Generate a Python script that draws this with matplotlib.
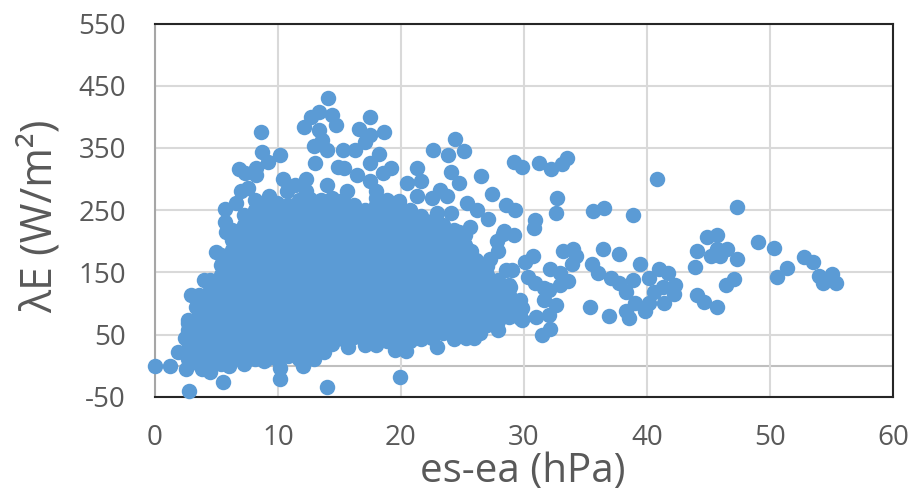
# scatter of latent heat flux against vapour pressure deficit

import matplotlib
matplotlib.use('Agg')
import matplotlib.pyplot as plt
import numpy as np

plt.rcParams['font.family'] = ['Open Sans', 'DejaVu Sans']
plt.rcParams['axes.unicode_minus'] = False

# separate points, read one by one
edge_x = [0, 2.76, 5.5, 10.2, 10.2, 14, 19.9, 1.2, 2.5, 4.5, 3.8, 6, 8.9, 12, 12.9, 13.7, 15.7, 17.1, 18, 19.5, 20.4, 22.9, 24.3, 25.3, 25.9, 26.4, 27.9, 29.8,
          1.9, 2.4, 2.7, 2.9, 3.3, 4, 5, 5.8, 5.7, 5.7, 6.6, 7, 7.6, 8.1, 9.3, 10.4, 11.4, 12.3, 12.3, 10.7, 14, 14.9, 15.4, 15.6, 16.4, 17.5, 19.2, 18.5, 20.5, 21.3, 21.5, 24.7,
          14.04, 8.6, 13.3, 12.7, 12.1, 14.4, 14.7, 13.3, 13.55, 12.9, 14, 13, 17.5, 16.6, 17.5, 18.6, 17.1, 15.3, 16.3, 18.2, 17.5,
          8.7, 10.2, 9.2, 8.2, 6.8, 8.2, 7.3, 22.6, 23.8, 24.4, 25.1, 24.1, 24.7, 21.3, 21.6, 26.5, 27.4, 28.5, 29.3, 29.2, 29.8,
          27.1, 28.4, 29.2, 27.8, 27.9, 27.2, 25.7, 25.6, 25.4, 26.2, 24.1, 23.2, 23.7, 22.5, 22.9, 18]
edge_y = [0, -41, -27, -22, -4, -35, -18, 0, -5, -10, -5, 0, 8, 0, 11, 22, 30, 33, 33, 25, 24, 30, 43, 45, 45, 52, 57, 73,
          22, 45, 68, 113, 95, 137, 183, 215, 231, 252, 261, 280, 285, 266, 273, 300, 290, 300, 280, 280, 290, 320, 317, 280, 306, 296, 317, 309, 293, 272, 237, 215,
          431, 375, 408, 399, 383, 403, 387, 379, 363, 353, 347, 325, 399, 380, 371, 376, 360, 347, 347, 340, 325,
          344, 339, 327, 317, 316, 306, 309, 347, 339, 365, 345, 312, 294, 318, 297, 305, 276, 259, 250, 328, 319,
          235, 217, 210, 201, 184, 172, 185, 223, 261, 250, 246, 282, 272, 269, 245, 280]

right_x = [31.2, 32.2, 33.1, 33.5, 40.8, 32.7, 32.6, 35.6, 36.5, 38.9, 47.3, 30.9, 30.8, 28.3, 30.7, 30.1, 33.2, 33.95, 34.2, 33.9,
           32.1, 32.9, 33.6, 32.9, 30.3, 30.9, 31.6, 32, 31.6, 32.6, 32, 32.1, 31.5, 31, 29.7, 29.7, 35.4, 36.9, 35.5, 36.4,
           37.7, 36, 37.1, 37.7, 38.3, 38.9, 39.4, 40.2, 41, 41.7, 42.3, 42.2, 40.6, 41.4, 41.3, 40.2, 39.8, 39, 38.3, 38.5,
           43.9, 44.1, 44.9, 45.7, 45.7, 45.2, 45.9, 46.5, 47.3, 47.1, 46.4, 44.1, 44.6, 45.7,
           49.05, 50.3, 50.6, 51.4, 52.8, 53.5, 54, 54.3, 55, 55.4,
           28.5, 29, 28.9, 29, 29.8]
right_y = [325, 316, 324, 334, 300, 269, 246, 248, 253, 242, 255, 234, 221, 212, 177, 166, 184, 187, 177, 163,
           156, 149, 136, 129, 143, 132, 124, 121, 106, 98, 81, 59, 49, 78, 76, 89, 95, 79, 163, 188,
           179, 149, 141, 132, 118, 138, 163, 141, 156, 149, 130, 115, 118, 100, 127, 101, 87, 101, 87, 77,
           158, 185, 207, 210, 188, 176, 176, 187, 171, 140, 130, 113, 102, 94,
           198, 189, 143, 157, 175, 166, 144, 132, 147, 133,
           153, 153, 127, 105, 92]

# solid part of the cloud, estimated column by column
core_x = [2.7, 3.6, 4.5, 5.4, 6.3, 7.2, 8.1, 9.0, 9.9, 10.8, 11.7, 12.6, 13.5, 14.4, 15.3, 16.2,
          17.1, 18.0, 18.9, 19.8, 20.7, 21.6, 22.5, 23.4, 24.3, 25.2, 26.1, 27.0, 27.9, 28.8, 29.7]
core_y = [
    [10, 26, 42, 58, 74],
    [2, 18, 34, 50, 66, 82, 98, 114],
    [-5, 10, 26, 42, 58, 74, 90, 106, 122, 138],
    [2, 18, 34, 50, 66, 82, 98, 114, 130, 146, 162, 178],
    [10, 26, 42, 58, 74, 90, 106, 122, 138, 154, 170, 186, 202, 218],
    [2, 18, 34, 50, 66, 82, 98, 114, 130, 146, 162, 178, 194, 210, 226, 242],
    [10, 26, 42, 58, 74, 90, 106, 122, 138, 154, 170, 186, 202, 218, 234, 250],
    [10, 18, 34, 50, 66, 82, 98, 114, 130, 146, 162, 178, 194, 210, 226, 242, 258],
    [10, 26, 42, 58, 74, 90, 106, 122, 138, 154, 170, 186, 202, 218, 234, 250, 262],
    [15, 34, 50, 66, 82, 98, 114, 130, 146, 162, 178, 194, 210, 226, 242, 258],
    [10, 26, 42, 58, 74, 90, 106, 122, 138, 154, 170, 186, 202, 218, 234, 250, 266],
    [20, 34, 50, 66, 82, 98, 114, 130, 146, 162, 178, 194, 210, 226, 242, 258, 268],
    [28, 42, 58, 74, 90, 106, 122, 138, 154, 170, 186, 202, 218, 234, 250, 266],
    [34, 50, 66, 82, 98, 114, 130, 146, 162, 178, 194, 210, 226, 242, 258, 270],
    [42, 58, 74, 90, 106, 122, 138, 154, 170, 186, 202, 218, 234, 250, 266],
    [46, 66, 82, 98, 114, 130, 146, 162, 178, 194, 210, 226, 242, 258],
    [48, 58, 74, 90, 106, 122, 138, 154, 170, 186, 202, 218, 234, 250],
    [48, 66, 82, 98, 114, 130, 146, 162, 178, 194, 210, 226, 242, 258, 270],
    [40, 58, 74, 90, 106, 122, 138, 154, 170, 186, 202, 218, 234, 250, 266],
    [40, 50, 66, 82, 98, 114, 130, 146, 162, 178, 194, 210, 226, 242, 258, 264],
    [40, 58, 74, 90, 106, 122, 138, 154, 170, 186, 202, 218, 234, 250],
    [42, 50, 66, 82, 98, 114, 130, 146, 162, 178, 194, 210, 226, 240],
    [44, 58, 74, 90, 106, 122, 138, 154, 170, 186, 202, 218, 232],
    [52, 66, 82, 98, 114, 130, 146, 162, 178, 194, 210, 226],
    [58, 74, 90, 106, 122, 138, 154, 170, 186, 202, 218],
    [60, 82, 98, 114, 130, 146, 162, 178, 194, 210],
    [62, 74, 90, 106, 122, 138, 154, 170],
    [66, 82, 98, 114, 130, 146, 160],
    [72, 90, 106, 122, 138],
    [78, 98, 114, 130],
    [80, 90, 106],
]

x_ticks = [0, 10, 20, 30, 40, 50, 60]
y_ticks = [-50, 50, 150, 250, 350, 450, 550]

core_xs = np.concatenate([[x] * len(ys) for x, ys in zip(core_x, core_y)])
core_ys = np.concatenate(core_y)
all_x = np.concatenate([edge_x, right_x, core_xs])
all_y = np.concatenate([edge_y, right_y, core_ys])

fig = plt.figure(figsize=(9.12, 4.92), dpi=100)
ax = fig.add_axes([155 / 912, 1 - 396.7 / 492, (893 - 155) / 912, (396.7 - 23.5) / 492])

ax.scatter(all_x, all_y, s=124, color='#5B9BD5', linewidths=0, zorder=3, clip_on=False)

ax.set_xlim(0, 60)
ax.set_ylim(-50, 550)
ax.set_xticks(x_ticks)
ax.set_yticks(y_ticks)
ax.grid(True, color='#D9D9D9', lw=1.5, zorder=0)
ax.axhline(0, color='#BFBFBF', lw=1.5, zorder=1)
ax.tick_params(length=0, labelsize=20, labelcolor='#595959')
ax.tick_params(axis='x', pad=19.5)
ax.tick_params(axis='y', pad=21)

for side in ['top', 'right', 'bottom']:
    ax.spines[side].set_color('#262626')
    ax.spines[side].set_linewidth(1.5)
ax.spines['left'].set_color('#A6A6A6')
ax.spines['left'].set_linewidth(1.5)

fig.text(523 / 912, 1 - 471.5 / 492, 'es-ea (hPa)', fontsize=29, color='#595959', ha='center', va='center')
fig.text(40 / 912, 1 - 216 / 492, 'λE (W/m²)', fontsize=31, color='#595959',
         ha='center', va='center', rotation=90)

fig.savefig('out.png', dpi=100)
